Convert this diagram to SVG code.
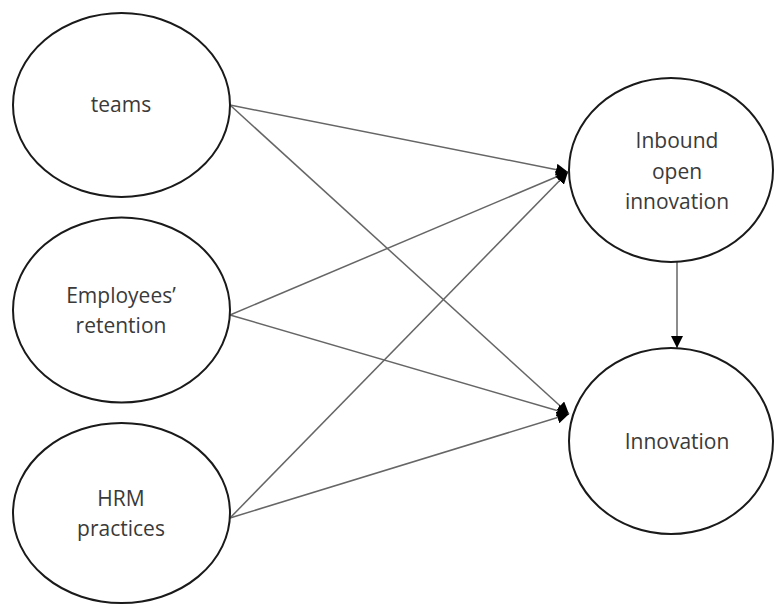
<svg xmlns="http://www.w3.org/2000/svg" width="774" height="605" viewBox="0 0 774 605">
<style>
.node ellipse{fill:#fff;stroke:#1a1a1a;stroke-width:2}
.node text{font-family:"Open Sans","Liberation Sans",sans-serif;font-size:21px;fill:#3a3a3a;text-anchor:middle;dominant-baseline:middle}
.conn line{stroke:#666;stroke-width:1.5}
</style>
<defs>
<marker id="ah" viewBox="0 0 10 10" refX="10" refY="5" markerWidth="8" markerHeight="8" markerUnits="strokeWidth" orient="auto">
<path d="M0,0 L10,5 L0,10 z" fill="#000"/>
</marker>
</defs>
<rect width="774" height="605" fill="#fff"/>
<g class="conn">
<line x1="230" y1="105" x2="568" y2="172" marker-end="url(#ah)"/>
<line x1="230" y1="105" x2="569" y2="414" marker-end="url(#ah)"/>
<line x1="230" y1="315" x2="568" y2="172" marker-end="url(#ah)"/>
<line x1="230" y1="315" x2="569" y2="414" marker-end="url(#ah)"/>
<line x1="230" y1="518" x2="568" y2="172" marker-end="url(#ah)"/>
<line x1="230" y1="518" x2="569" y2="414" marker-end="url(#ah)"/>
<line x1="677" y1="262" x2="677" y2="348" stroke="#222" marker-end="url(#ah)"/>
</g>
<g id="teams" class="node">
<ellipse cx="121.5" cy="105" rx="108.5" ry="92"/>
<text x="121" y="106">teams</text>
</g>
<g id="retention" class="node">
<ellipse cx="121.5" cy="310" rx="108.5" ry="92.5"/>
<text x="121" y="297">Employees’</text>
<text x="121" y="327">retention</text>
</g>
<g id="hrm" class="node">
<ellipse cx="121.5" cy="513" rx="108.5" ry="90"/>
<text x="121" y="500">HRM</text>
<text x="121" y="530">practices</text>
</g>
<g id="inbound" class="node">
<ellipse cx="671" cy="170" rx="102" ry="92"/>
<text x="677" y="142">Inbound</text>
<text x="677" y="173">open</text>
<text x="677" y="203">innovation</text>
</g>
<g id="innovation" class="node">
<ellipse cx="671" cy="441" rx="102" ry="93"/>
<text x="677" y="443">Innovation</text>
</g>
</svg>
